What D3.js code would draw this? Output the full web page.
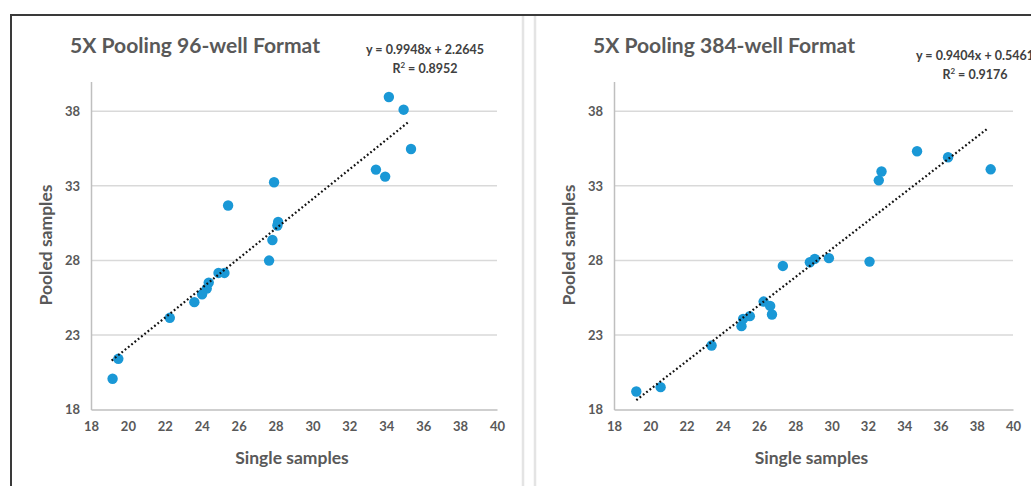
<!DOCTYPE html>
<html>
<head>
<meta charset="utf-8">
<script src="https://cdn.jsdelivr.net/npm/d3@7"></script>
<style>
  body { margin: 0; background: #fff; }
  svg text { font-family: Lato, "Open Sans", sans-serif; }
</style>
</head>
<body>
<div id="chartDiv"></div>
<script>
//----------------------------------------------------------------------------------------------------
// values
var xTicks = [18, 20, 22, 24, 26, 28, 30, 32, 34, 36, 38, 40];
var yTicks = [18, 23, 28, 33, 38];

var titles96 = "5X Pooling 96-well Format";
var single96 = [34.14, 34.94, 35.34, 33.44, 33.94, 27.92, 25.43, 28.14, 28.10, 27.83,
                27.65, 25.23, 24.91, 24.38, 24.27, 24.02, 23.60, 22.27, 19.48, 19.17];
var pooled96 = [38.96, 38.11, 35.47, 34.09, 33.62, 33.24, 31.68, 30.58, 30.34, 29.37,
                27.99, 27.16, 27.16, 26.51, 26.11, 25.73, 25.20, 24.15, 21.40, 20.06];
var trend96  = {slope: 0.9948, intercept: 2.2645, r2: "0.8952", from: 19.12, to: 35.26};

var titles384 = "5X Pooling 384-well Format";
var single384 = [19.23, 20.57, 23.38, 25.03, 25.12, 25.49, 26.25, 26.61, 26.71, 27.31,
                 28.80, 29.07, 29.85, 32.09, 32.60, 32.75, 34.71, 36.42, 38.77];
var pooled384 = [19.21, 19.50, 22.29, 23.59, 24.08, 24.26, 25.24, 24.95, 24.37, 27.63,
                 27.88, 28.10, 28.15, 27.92, 33.37, 33.96, 35.32, 34.92, 34.11];
var trend384  = {slope: 0.9404, intercept: 0.5461, r2: "0.9176", from: 19.23, to: 38.62};

//----------------------------------------------------------------------------------------------------
var width = 1031, height = 486;
var textColor = "#595959";
var dotColor = "#1a98d6";

var svg = d3.select("#chartDiv").append("svg")
    .attr("width", width)
    .attr("height", height);

   // frame lines (screenshot border + panel separator)
svg.append("line").attr("x1", 10).attr("x2", width).attr("y1", 15).attr("y2", 15)
   .attr("stroke", "#3a3a3a").attr("stroke-width", 2);
svg.append("line").attr("x1", 11).attr("x2", 11).attr("y1", 14).attr("y2", height)
   .attr("stroke", "#3a3a3a").attr("stroke-width", 2);
[523, 535].forEach(function(x){
   svg.append("line").attr("x1", x).attr("x2", x).attr("y1", 16).attr("y2", height)
      .attr("stroke", "#e4e4e4").attr("stroke-width", 2.5);
});

//----------------------------------------------------------------------------------------------------
function drawPanel(p)
{
   var xScale = d3.scaleLinear().domain([18, 40]).range([p.left, p.right]);
   var yScale = d3.scaleLinear().domain([18, 40]).range([409.5, 81.5]);

   var g = svg.append("g");

     // horizontal gridlines
   g.selectAll("line.grid")
      .data(yTicks.filter(function(d){ return d > 18; }))
      .enter().append("line")
      .attr("class", "grid")
      .attr("x1", xScale(18)).attr("x2", xScale(40))
      .attr("y1", function(d){ return yScale(d); })
      .attr("y2", function(d){ return yScale(d); })
      .attr("stroke", "#d9d9d9").attr("stroke-width", 1.5);

   var xAxis = d3.axisBottom(xScale).tickValues(xTicks).tickSize(0).tickPadding(12);
   var yAxis = d3.axisLeft(yScale).tickValues(yTicks).tickSize(0).tickPadding(11);

   var gx = g.append("g")
      .attr("transform", "translate(0," + yScale(18) + ")")
      .call(xAxis);
   gx.select(".domain").attr("stroke", "#bfbfbf").attr("stroke-width", 1.5);
   gx.selectAll("text").attr("fill", textColor).attr("font-size", 13).attr("font-weight", "bold");

   var gy = g.append("g")
      .attr("transform", "translate(" + xScale(18) + ",0)")
      .call(yAxis);
   gy.select(".domain").attr("stroke", "#bfbfbf").attr("stroke-width", 1.5);
   gy.selectAll("text").attr("fill", textColor).attr("font-size", 13).attr("font-weight", "bold");

     // points
   var pts = p.xs.map(function(x, i){ return {x: x, y: p.ys[i]}; });
   g.selectAll("circle")
      .data(pts)
      .enter().append("circle")
      .attr("cx", function(d){ return xScale(d.x); })
      .attr("cy", function(d){ return yScale(d.y); })
      .attr("r", 5.2)
      .attr("fill", dotColor);

     // linear trendline from the printed equation
   var t = p.trend;
   g.append("line")
      .attr("x1", xScale(t.from)).attr("y1", yScale(t.slope * t.from + t.intercept))
      .attr("x2", xScale(t.to)).attr("y2", yScale(t.slope * t.to + t.intercept))
      .attr("stroke", "#111").attr("stroke-width", 2.2)
      .attr("stroke-dasharray", "1.8,2.4");

     // title
   g.append("text")
      .attr("x", p.titleX).attr("y", 53)
      .attr("font-size", 21).attr("font-weight", "bold")
      .attr("fill", textColor)
      .attr("textLength", p.titleW).attr("lengthAdjust", "spacingAndGlyphs")
      .text(p.title);

     // equation + R²
   g.append("text")
      .attr("x", p.eqX).attr("y", p.eqY)
      .attr("text-anchor", "middle")
      .attr("font-size", 12.5).attr("font-weight", "bold").attr("fill", "#404040")
      .text("y = " + t.slope.toFixed(4) + "x + " + t.intercept.toFixed(4));
   var r = g.append("text")
      .attr("x", p.eqX).attr("y", p.eqY + 19)
      .attr("text-anchor", "middle")
      .attr("font-size", 12.5).attr("font-weight", "bold").attr("fill", "#404040");
   r.append("tspan").text("R");
   r.append("tspan").attr("font-size", 8).attr("dy", -5).text("2");
   r.append("tspan").attr("dy", 5).text(" = " + t.r2);

     // axis titles
   g.append("text")
      .attr("x", (xScale(18) + xScale(40)) / 2 - 2).attr("y", 464)
      .attr("text-anchor", "middle")
      .attr("font-size", 17.5).attr("font-weight", "bold").attr("fill", textColor)
      .text("Single samples");
   g.append("text")
      .attr("transform", "translate(" + (p.left - 39) + ",245) rotate(-90)")
      .attr("text-anchor", "middle")
      .attr("font-size", 17.5).attr("font-weight", "bold").attr("fill", textColor)
      .text("Pooled samples");

} // drawPanel
//----------------------------------------------------------------------------------------------------
drawPanel({left: 91, right: 497, xs: single96, ys: pooled96, trend: trend96,
           title: titles96, titleX: 70, titleW: 250, eqX: 425, eqY: 54});
drawPanel({left: 614, right: 1013, xs: single384, ys: pooled384, trend: trend384,
           title: titles384, titleX: 593, titleW: 262, eqX: 975, eqY: 60});
</script>
</body>
</html>
